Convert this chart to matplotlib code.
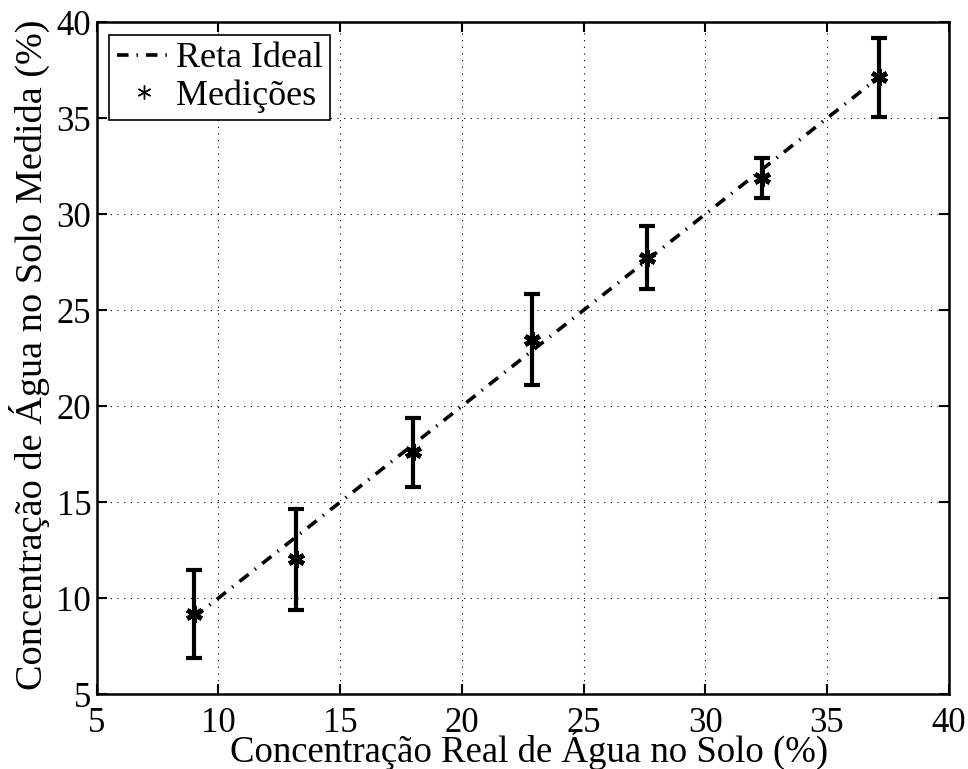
import matplotlib
matplotlib.use('Agg')
import matplotlib.pyplot as plt
import numpy as np

x_real = [9.0, 13.2, 18.0, 22.9, 27.6, 32.35, 37.15]
y_meas = [9.17, 12.05, 17.6, 23.47, 27.74, 31.9, 37.15]
y_low  = [6.86, 9.38, 15.8, 21.1, 26.1, 30.85, 35.05]
y_high = [11.45, 14.65, 19.38, 25.82, 29.38, 32.92, 39.2]

ticks = [5, 10, 15, 20, 25, 30, 35, 40]

plt.rcParams.update({
    'font.family': ['Liberation Serif', 'DejaVu Serif'],
    'font.size': 25,
})

fig = plt.figure(figsize=(9.68, 7.69), dpi=100, facecolor='white')
ax = fig.add_axes([0.100, 0.0975, 0.880, 0.8735])

yerr = [np.array(y_meas) - np.array(y_low), np.array(y_high) - np.array(y_meas)]

ax.plot(x_real, x_real, color='black', linewidth=2.6,
        linestyle=(0, (3.2, 2.2, 0.4, 2.2)), label='Reta Ideal', zorder=3)
ax.errorbar(x_real, y_meas, yerr=yerr, fmt='none', ecolor='black',
            elinewidth=3, capsize=6, capthick=3, zorder=4)
ax.plot(x_real, y_meas, linestyle='none', marker=(6, 2, 0), color='black',
        markersize=12, markeredgewidth=3.4, zorder=5)
ax.plot([], [], linestyle='none', marker=(6, 2, 0), color='black',
        markersize=10, markeredgewidth=1, label='Medições')

ax.set_xlim(5, 40)
ax.set_ylim(5, 40)
ax.set_xticks(ticks)
ax.set_yticks(ticks)
ax.grid(True, color='black', linestyle=(0, (1, 5)), linewidth=0.8)
ax.tick_params(direction='in', top=True, right=True, length=7, width=1.5,
               labelsize=25)
ax.tick_params(axis='x', pad=9)
ax.tick_params(axis='y', pad=4)
for s in ax.spines.values():
    s.set_linewidth(1.8)

ax.set_xlabel('Concentração Real de Água no Solo (%)', fontsize=26.5)
ax.xaxis.label.set_va('baseline')
ax.xaxis.set_label_coords(0.507, -0.101)
ax.set_ylabel('Concentração de Água no Solo Medida (%)', fontsize=27.5)
ax.yaxis.label.set_va('center')
ax.yaxis.set_label_coords(-0.079, 0.505)

leg = ax.legend(loc='upper left', fontsize=26, frameon=True, fancybox=False,
                edgecolor='black', framealpha=1, borderpad=0.2,
                handlelength=1.5, handletextpad=0.15, labelspacing=0.1,
                borderaxespad=0.35)
leg.get_frame().set_linewidth(1.2)

fig.savefig('out.png', dpi=100, facecolor='white')
